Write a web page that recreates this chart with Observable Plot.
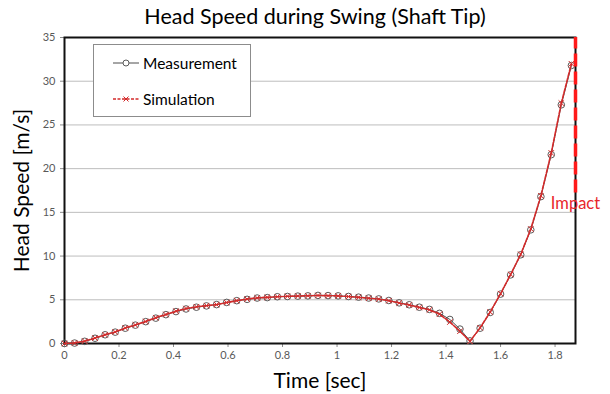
<!DOCTYPE html>
<html>
<head>
<meta charset="utf-8">
<script src="https://cdn.jsdelivr.net/npm/d3@7"></script>
<script src="https://cdn.jsdelivr.net/npm/@observablehq/plot@0.6"></script>
<style>
  html, body { margin: 0; padding: 0; background: #fff; }
  #chart { position: relative; width: 610px; height: 394px; font-family: Lato, "Open Sans", sans-serif; }
  #chart svg { font-family: Lato, "Open Sans", sans-serif; }
  #chart g[aria-label="y-axis label"] text,
  #chart g[aria-label="x-axis label"] text { font-size: 21px; fill: #000; }
  #chart g[aria-label="y-axis tick label"] text,
  #chart g[aria-label="x-axis tick label"] text { fill: #595959; }
  .legend { position: absolute; left: 93px; top: 44px; width: 158px; height: 73px;
            border: 1px solid #8c8c8c; background: #fff; box-sizing: border-box; }
  .legend .row { position: absolute; left: 18px; display: flex; align-items: center;
                 font-size: 15.5px; color: #000; }
  .legend svg { margin-right: 3px; }
</style>
</head>
<body>
<div id="chart"></div>
<script>
// Swing head speed at the shaft tip: measured vs simulated
const title = "Head Speed during Swing (Shaft Tip)";
const xLabel = "Time [sec]";
const yLabel = "Head Speed [m/s]";
const impactLabel = "Impact";

const time = [
  0, 0.037, 0.074, 0.112, 0.149, 0.186, 0.223, 0.260, 0.298, 0.335,
  0.372, 0.409, 0.446, 0.484, 0.521, 0.558, 0.595, 0.632, 0.670, 0.707,
  0.744, 0.781, 0.818, 0.856, 0.893, 0.930, 0.967, 1.004, 1.042, 1.079,
  1.116, 1.153, 1.190, 1.228, 1.265, 1.302, 1.339, 1.376, 1.414, 1.451,
  1.488, 1.525, 1.562, 1.600, 1.637, 1.674, 1.711, 1.748, 1.786, 1.823,
  1.860
];
const measurement = [
  0, 0.05, 0.25, 0.6, 1.0, 1.3, 1.75, 2.1, 2.5, 2.9,
  3.3, 3.65, 3.95, 4.15, 4.3, 4.45, 4.7, 4.9, 5.05, 5.2,
  5.25, 5.35, 5.38, 5.42, 5.45, 5.5, 5.48, 5.45, 5.38, 5.3,
  5.2, 5.1, 4.92, 4.65, 4.43, 4.15, 3.9, 3.45, 2.75, 1.65,
  0.3, 1.75, 3.55, 5.65, 7.85, 10.15, 13.0, 16.8, 21.6, 27.3,
  31.8
];
const simulation = [
  0, 0.06, 0.27, 0.62, 1.0, 1.32, 1.78, 2.12, 2.52, 2.95,
  3.32, 3.7, 4.0, 4.2, 4.33, 4.45, 4.68, 4.9, 5.08, 5.22,
  5.28, 5.35, 5.4, 5.43, 5.46, 5.49, 5.47, 5.44, 5.37, 5.28,
  5.18, 5.08, 4.9, 4.63, 4.4, 4.12, 3.85, 3.35, 2.45, 1.4,
  0.25, 1.8, 3.6, 5.7, 7.9, 10.2, 13.1, 16.9, 21.8, 27.5,
  32.0
];
const impactTime = 1.875;
const impactSpan = [17.2, 35];

const xTicks = [0, 0.2, 0.4, 0.6, 0.8, 1, 1.2, 1.4, 1.6, 1.8];
const yTicks = [0, 5, 10, 15, 20, 25, 30, 35];

const meas = time.map((t, i) => ({t, v: measurement[i]}));
const sim = time.map((t, i) => ({t, v: simulation[i]}));

const redLine = "#d42a2a";
const tickFmt = d => String(+d.toFixed(1));

const plot = Plot.plot({
  width: 610,
  height: 394,
  marginTop: 37,
  marginLeft: 64,
  marginRight: 35,
  marginBottom: 51,
  style: {fontSize: "11px", background: "#fff", overflow: "visible"},
  x: {domain: [0, impactTime]},
  y: {domain: [0, 35]},
  marks: [
    Plot.gridY(yTicks.filter(d => d > 0 && d < 35), {stroke: "#bdbdbd", strokeOpacity: 1, strokeWidth: 1}),
    Plot.axisX({ticks: xTicks, tickFormat: tickFmt, stroke: "#8c8c8c", tickSize: 4, tickPadding: 4,
                label: xLabel, labelAnchor: "center", labelArrow: "none", labelOffset: 44}),
    Plot.axisY({ticks: yTicks, stroke: "#8c8c8c", tickSize: 4, tickPadding: 5,
                label: yLabel, labelAnchor: "center", labelArrow: "none", labelOffset: 50}),
    Plot.frame({stroke: "#111", strokeWidth: 2}),
    // measured curve with open circles
    Plot.line(meas, {x: "t", y: "v", stroke: "#4d4d4d", strokeWidth: 1}),
    Plot.dot(meas, {x: "t", y: "v", r: 3.3, stroke: "#5a5a5a", strokeWidth: 1, fill: "none"}),
    // simulated curve, dashed red with crosses
    Plot.line(sim, {x: "t", y: "v", stroke: redLine, strokeWidth: 1.6, strokeDasharray: "4,1.5"}),
    Plot.dot(sim, {x: "t", y: "v", symbol: "times", r: 2.6, stroke: redLine, strokeWidth: 1}),
    // impact marker
    Plot.ruleX([impactTime], {y1: impactSpan[0], y2: impactSpan[1], stroke: "#ff1a1a", strokeWidth: 3.5,
                              strokeDasharray: "13,5"}),
    Plot.text([impactLabel], {x: () => impactTime, y: () => 16.0, text: d => d, fill: "#e8262b",
                              fontSize: 16.5, textAnchor: "middle"}),
    Plot.text([title], {frameAnchor: "top", text: d => d, dy: -29, dx: -5, fontSize: 21.5, fill: "#000"})
  ]
});

const chart = document.getElementById("chart");
chart.appendChild(plot);

// legend box
const legend = document.createElement("div");
legend.className = "legend";
legend.innerHTML = `
  <div class="row" style="top:9px">
    <svg width="28" height="12"><line x1="1" y1="6" x2="27" y2="6" stroke="#4d4d4d" stroke-width="1"/>
      <circle cx="14" cy="6" r="3" fill="#fff" stroke="#5a5a5a" stroke-width="1"/></svg>
    <span>Measurement</span></div>
  <div class="row" style="top:45px">
    <svg width="28" height="12"><line x1="1" y1="6" x2="27" y2="6" stroke="${redLine}" stroke-width="1.3" stroke-dasharray="3,1.5"/>
      <path d="M11.5,3.5L16.5,8.5M16.5,3.5L11.5,8.5" stroke="${redLine}" stroke-width="1"/></svg>
    <span>Simulation</span></div>`;
chart.appendChild(legend);
</script>
</body>
</html>
